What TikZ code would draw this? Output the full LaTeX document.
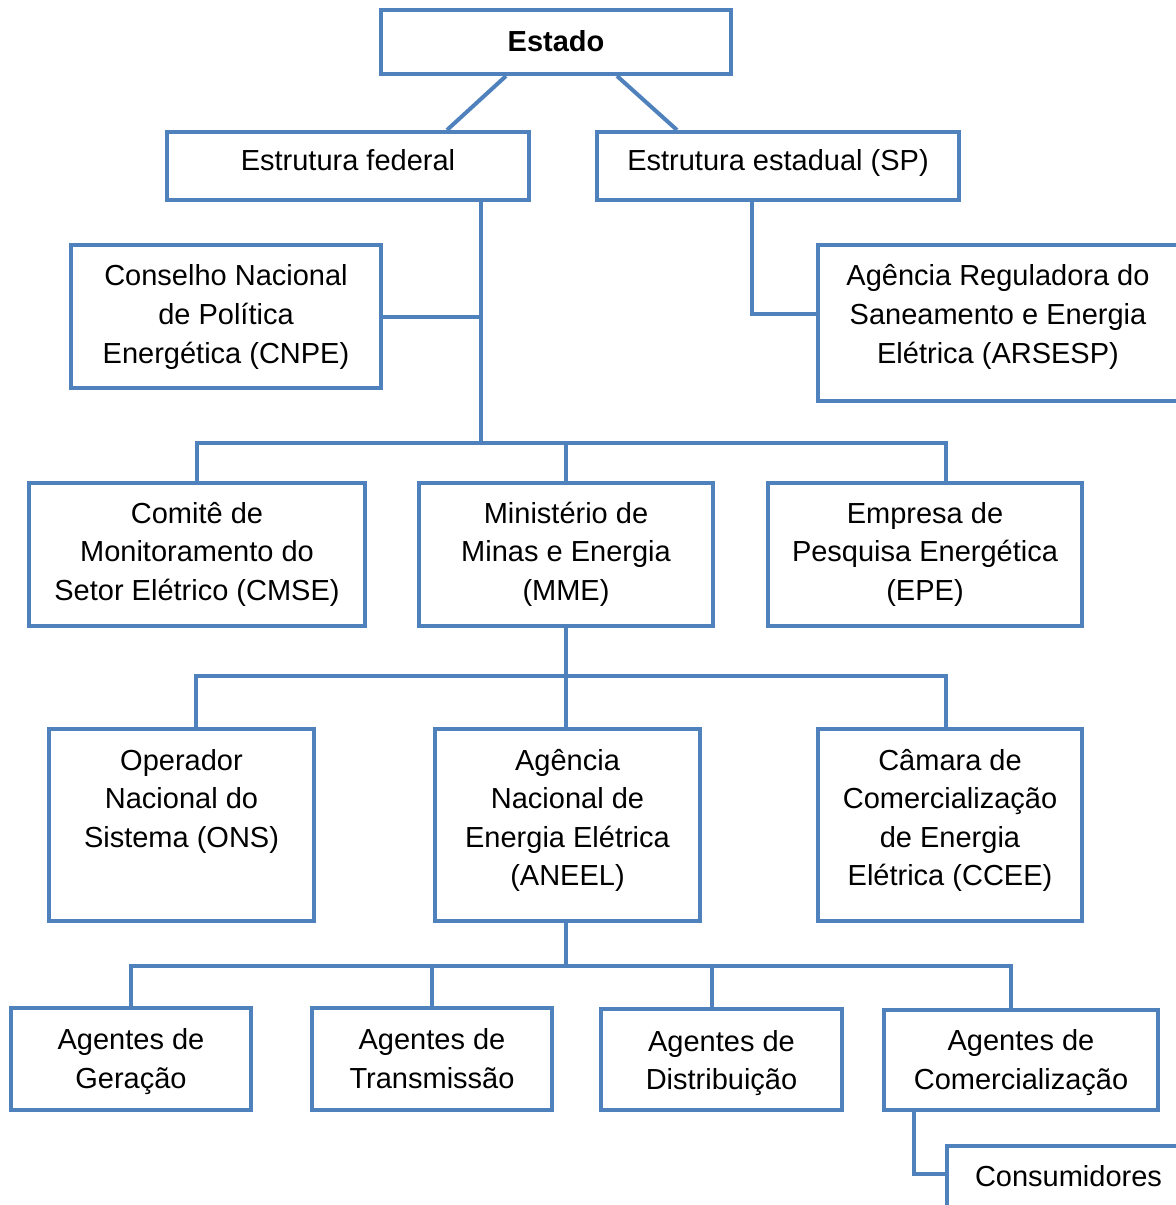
\documentclass[tikz,border=0pt]{standalone}
\usepackage{fontspec}
\setmainfont{Liberation Sans}
\usepackage{tikz}
\usetikzlibrary{positioning}
\definecolor{orgblue}{RGB}{79,129,189}
\newcommand{\boxtext}[2][0pt]{\raisebox{#1}[0pt][0pt]{\begin{tabular}[t]{@{}c@{}}#2\end{tabular}}}
\tikzset{
    orgbox/.style={draw=orgblue,line width=2pt,fill=white,inner sep=0pt,
        font=\fontsize{14.5}{19.3}\selectfont},
    link/.style={draw=orgblue,line width=2pt},
}

\begin{document}
\begin{tikzpicture}[x=0.5pt,y=-0.5pt]
\clip(0,0) rectangle (1176,1205);
\fill[white](0,0) rectangle (1176,1205);

\node[orgbox,minimum width=175pt,minimum height=32pt,font=\fontsize{14.5}{19.3}\selectfont\bfseries] (estado) at (556,42) {\boxtext[-4.7pt]{Estado}};
\node[orgbox,minimum width=181pt,minimum height=34pt] (federal) at (348,166) {\boxtext[-2.2pt]{Estrutura federal}};
\node[orgbox,minimum width=181pt,minimum height=34pt] (estadual) at (778,166) {\boxtext[-2.2pt]{Estrutura estadual (SP)}};

\node[orgbox,minimum width=155pt,minimum height=71.5pt] (cnpe) at (226,316.5) {\boxtext[15.35pt]{Conselho Nacional\\de Política\\Energética (CNPE)}};
\node[orgbox,minimum width=180pt,minimum height=78pt] (arsesp) at (998,323) {\boxtext[18.6pt]{Agência Reguladora do\\Saneamento e Energia\\Elétrica (ARSESP)}};

\node[orgbox,minimum width=168pt,minimum height=71.5pt] (cmse) at (197,554.5) {\boxtext[15.6pt]{Comitê de\\Monitoramento do\\Setor Elétrico (CMSE)}};
\node[orgbox,minimum width=147pt,minimum height=71.5pt] (mme) at (566,554.5) {\boxtext[15.6pt]{Ministério de\\Minas e Energia\\(MME)}};
\node[orgbox,minimum width=157pt,minimum height=71.5pt] (epe) at (925,554.5) {\boxtext[15.6pt]{Empresa de\\Pesquisa Energética\\(EPE)}};

\node[orgbox,minimum width=132.5pt,minimum height=96pt] (ons) at (181.5,825) {\boxtext[27.5pt]{Operador\\Nacional do\\Sistema (ONS)}};
\node[orgbox,minimum width=132.5pt,minimum height=96pt] (aneel) at (567.5,825) {\boxtext[27.5pt]{Agência\\Nacional de\\Energia Elétrica\\(ANEEL)}};
\node[orgbox,minimum width=132pt,minimum height=96pt] (ccee) at (950,825) {\boxtext[27.5pt]{Câmara de\\Comercialização\\de Energia\\Elétrica (CCEE)}};

\node[orgbox,minimum width=120pt,minimum height=51pt] (geracao) at (131,1059) {\boxtext[4.7pt]{Agentes de\\Geração}};
\node[orgbox,minimum width=120pt,minimum height=51pt] (transm) at (432,1059) {\boxtext[4.7pt]{Agentes de\\Transmissão}};
\node[orgbox,minimum width=120.5pt,minimum height=50.5pt] (distrib) at (721.5,1059.5) {\boxtext[4.2pt]{Agentes de\\Distribuição}};
\node[orgbox,minimum width=137pt,minimum height=50pt] (comerc) at (1021,1060) {\boxtext[4.7pt]{Agentes de\\Comercialização}};
\node[orgbox,minimum width=121.5pt,minimum height=32pt] (consum) at (1068.5,1178) {\boxtext[-4.2pt]{Consumidores}};

\coordinate (bus1) at (481,443);
\coordinate (bus2) at (566,676);
\coordinate (bus3) at (566,966);

\draw[link]([xshift=-25pt]estado.south) -- ([xshift=49.5pt]federal.north);
\draw[link]([xshift=30.5pt]estado.south) -- ([xshift=-50.5pt]estadual.north);

\draw[link]([xshift=66.5pt]federal.south) -- (bus1);
\draw[link](cnpe.east) -- (cnpe.east -| bus1);
\draw[link]([xshift=-13pt]estadual.south) |- ([yshift=4.5pt]arsesp.west);

\draw[link](cmse.north) |- ([xshift=10.5pt]epe.north |- bus1) -- ([xshift=10.5pt]epe.north);
\draw[link](mme.north) -- (mme.north |- bus1);

\draw[link](mme.south) -- (bus2);
\draw[link]([xshift=7.25pt]ons.north) |- ([xshift=-2pt]ccee.north |- bus2) -- ([xshift=-2pt]ccee.north);
\draw[link](bus2) -- (bus2 |- aneel.north);

\draw[link](bus2 |- aneel.south) -- (bus3);
\draw[link](geracao.north) |- ([xshift=-5pt]comerc.north |- bus3) -- ([xshift=-5pt]comerc.north);
\draw[link](transm.north) -- (transm.north |- bus3);
\draw[link]([xshift=-5pt]distrib.north) -- ([xshift=-5pt]distrib.north |- bus3);

\draw[link]([xshift=-53.5pt]comerc.south) |- ([yshift=2pt]consum.west);

\end{tikzpicture}
\end{document}
